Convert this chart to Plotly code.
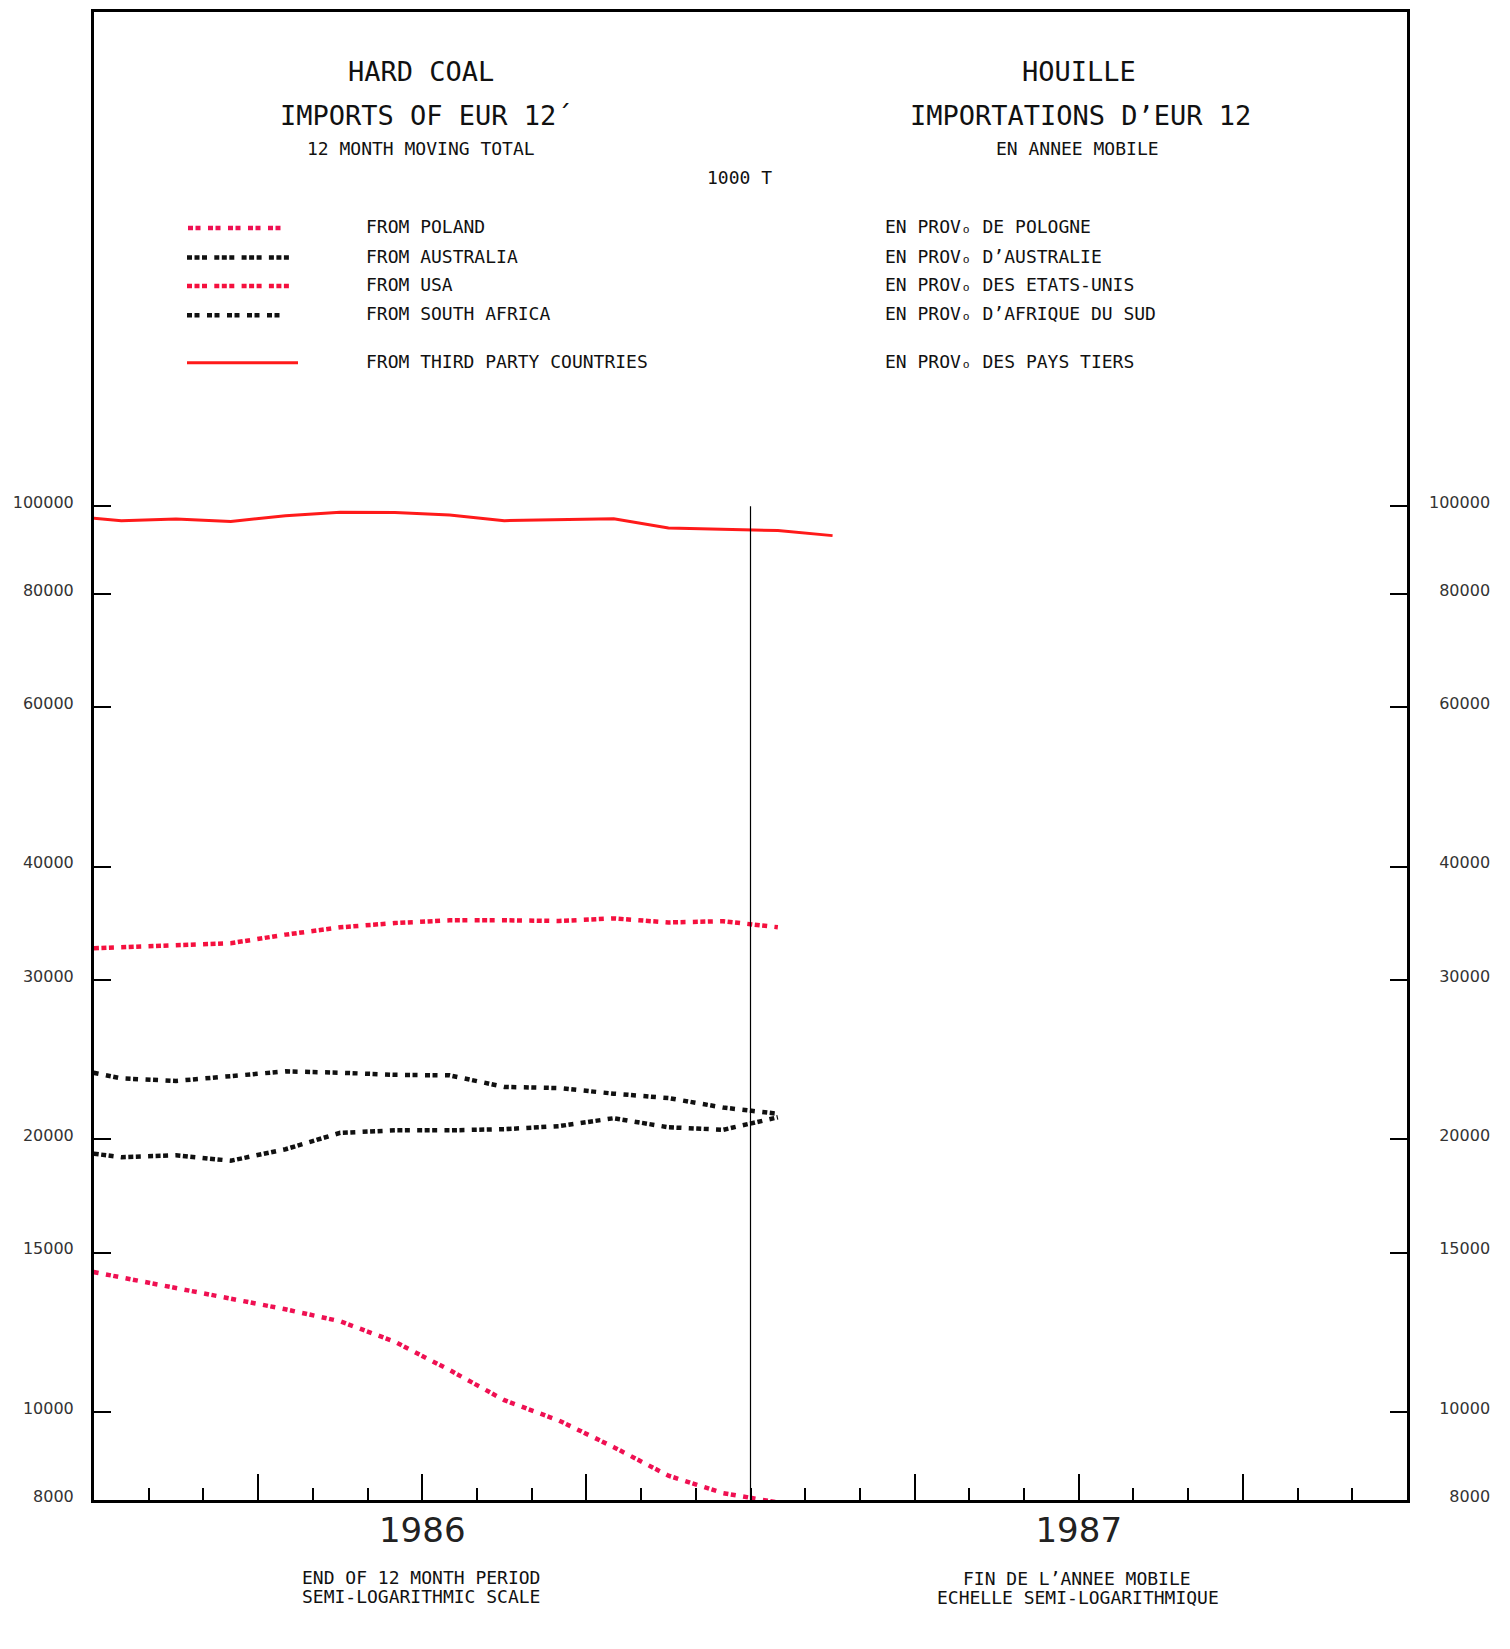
import math
import plotly.graph_objects as go

# ---------------- data (1000 t, 12-month moving totals, plotted mid-month) ----------------
periods = ["1985-12", "1986-01", "1986-02", "1986-03", "1986-04", "1986-05", "1986-06",
           "1986-07", "1986-08", "1986-09", "1986-10", "1986-11", "1986-12", "1987-01",
           "1987-02"]
third_party = [97600, 96400, 96800, 96200, 97600, 98500, 98400, 97800, 96400, 96700,
               96850, 94600, 94250, 94000, 92800]
usa = [32440, 32620, 32800, 32940, 33660, 34290, 34670, 34910, 34910, 34850, 35080,
       34720, 34830, 34300]
south_africa = [24020, 23360, 23210, 23510, 23780, 23700, 23570, 23540, 22860, 22790,
                22470, 22220, 21690, 21350]
australia = [19460, 19120, 19210, 18950, 19510, 20340, 20470, 20470, 20530, 20690,
             21110, 20630, 20500, 21160]
poland = [14470, 14090, 13730, 13340, 12990, 12600, 11960, 11130, 10310, 9790, 9150,
          8510, 8140, 7950]

y_tick_vals = [8000, 10000, 15000, 20000, 30000, 40000, 60000, 80000, 100000]
y_tick_text = ["8000", "10000", "15000", "20000", "30000", "40000", "60000", "80000", "100000"]
quarter_ticks = [3, 6, 9, 15, 18, 21]
quarter_text = ["", "1986", "", "", "1987", ""]

legend_en = ["FROM POLAND", "FROM AUSTRALIA", "FROM USA", "FROM SOUTH AFRICA",
             "FROM THIRD PARTY COUNTRIES"]
legend_fr = ["EN PROV\u2092 DE POLOGNE", "EN PROV\u2092 D\u2019AUSTRALIE",
             "EN PROV\u2092 DES ETATS-UNIS", "EN PROV\u2092 D\u2019AFRIQUE DU SUD",
             "EN PROV\u2092 DES PAYS TIERS"]


def month_pos(p):
    y, m = map(int, p.split("-"))
    return (y - 1986) * 12 + (m - 1) + 0.5


x_all = [month_pos(p) for p in periods]
x14 = x_all[:14]

# ---------------- layout constants (page pixels; page body has an 8px margin) ----------------
OFF = 8
FW, FH = 1510 - OFF, 1649 - OFF
P_LEFT, P_RIGHT, P_TOP, P_BOTTOM = 94, 1407, 9, 1500     # plot frame on the page
L, R, T, B = P_LEFT - OFF, FW - (P_RIGHT - OFF), P_TOP - OFF, FH - (P_BOTTOM - OFF)
PW, PH = P_RIGHT - P_LEFT, P_BOTTOM - P_TOP
ylo = math.log10(8000)
px_per_decade = 907.8
yhi = ylo + PH / px_per_decade


def fx(px):
    return (px - P_LEFT) / PW


def fy(py):
    return (P_BOTTOM - py) / PH


RED = "#ff1a1a"
USA_RED = "#f5103e"
POL_RED = "#ef1052"
BLACK = "#111111"
PAIRS = "5px,2.5px,5px,7.5px"
TRIPLES = "5px,2.5px,5px,2.5px,5px,7.3px"

series = [
    ("Poland", poland, x14, POL_RED, 4.5, PAIRS),
    ("Australia", australia, x14, BLACK, 4.5, TRIPLES),
    ("USA", usa, x14, USA_RED, 4.5, TRIPLES),
    ("South Africa", south_africa, x14, BLACK, 4.5, PAIRS),
    ("Third party countries", third_party, x_all, RED, 3, "solid"),
]

fig = go.Figure()
for name, vals, xs, col, w, dash in series:
    fig.add_trace(go.Scatter(x=xs, y=vals, mode="lines", name=name,
                             line=dict(color=col, width=w, dash=dash),
                             showlegend=False))
# anchor for the right-hand value axis
fig.add_trace(go.Scatter(x=[], y=[], yaxis="y2", showlegend=False, hoverinfo="skip"))

# year boundary line
fig.add_shape(type="line", xref="x", yref="y", x0=12, x1=12, y0=8000, y1=100000,
              line=dict(color="black", width=1.2))

# legend samples
legend_rows = [224, 253.5, 282, 311.3, 359]
legend_x = [(188, 281), (187, 289), (187, 289), (187, 280), (187, 298)]
for (name, vals, xs, col, w, dash), py, (x0, x1) in zip(series, legend_rows, legend_x):
    fig.add_shape(type="line", xref="paper", yref="paper", x0=fx(x0), x1=fx(x1),
                  y0=fy(py + 1.5), y1=fy(py + 1.5), line=dict(color=col, width=w, dash=dash))

ann = []
MONO = "DejaVu Sans Mono"


def text(s, px, py, size, anchor="center", family=MONO, color="#111111"):
    ann.append(dict(text=s, x=fx(px), y=fy(py), xref="paper", yref="paper",
                    xanchor=anchor, yanchor="middle", showarrow=False,
                    font=dict(family=family, size=size, color=color)))


text("HARD COAL", 421, 69, 27)
text("IMPORTS OF EUR 12\u00b4", 426, 113, 27)
text("12 MONTH MOVING TOTAL", 421, 146, 18)
text("1000 T", 739, 174.5, 18)
text("HOUILLE", 1079, 69, 27)
text("IMPORTATIONS D\u2019EUR 12", 1080, 113, 27)
text("EN ANNEE MOBILE", 1077, 146, 18)
for en, fr, py in zip(legend_en, legend_fr, legend_rows):
    text(en, 364, py, 18, anchor="left")
    text(fr, 883, py, 18, anchor="left")
text("END OF 12 MONTH PERIOD", 421, 1578, 18)
text("SEMI-LOGARITHMIC SCALE", 421, 1597, 18)
text("FIN DE L\u2019ANNEE MOBILE", 1077, 1579, 18)
text("ECHELLE SEMI-LOGARITHMIQUE", 1078, 1598, 18)

tickfont = dict(family="DejaVu Sans", size=16, color="#333333")

fig.update_layout(
    width=FW, height=FH,
    margin=dict(l=L, r=R, t=T, b=B, pad=0),
    paper_bgcolor="white", plot_bgcolor="white",
    showlegend=False,
    annotations=ann,
    xaxis=dict(range=[0, 24], showgrid=False, zeroline=False,
               showline=True, linecolor="black", linewidth=3, mirror=True,
               tickmode="array", tickvals=quarter_ticks, ticktext=quarter_text,
               ticks="inside", ticklen=26, tickwidth=1.5, tickcolor="black",
               ticklabelstandoff=-2,
               tickfont=dict(family="DejaVu Sans", size=34, color="#222222"),
               minor=dict(dtick=1, tick0=0, ticks="inside", ticklen=12,
                          tickwidth=1.5, tickcolor="black", showgrid=False)),
    yaxis=dict(type="log", range=[ylo, yhi], showgrid=False, zeroline=False,
               showline=True, linecolor="black", linewidth=3, mirror=True,
               tickmode="array", tickvals=y_tick_vals, ticktext=y_tick_text,
               ticks="inside", ticklen=17, tickwidth=1.5, tickcolor="black",
               ticklabelstandoff=14, ticklabelshift=-4, tickfont=tickfont),
    yaxis2=dict(type="log", range=[ylo, yhi], overlaying="y", side="right",
                showgrid=False, zeroline=False, showline=False,
                tickmode="array", tickvals=y_tick_vals,
                ticktext=["\u2007" * (6 - len(t)) + t for t in y_tick_text],
                ticks="inside", ticklen=17, tickwidth=1.5, tickcolor="black",
                ticklabelstandoff=21, ticklabelshift=-4, tickfont=tickfont),
)

fig.write_html("out.html")
